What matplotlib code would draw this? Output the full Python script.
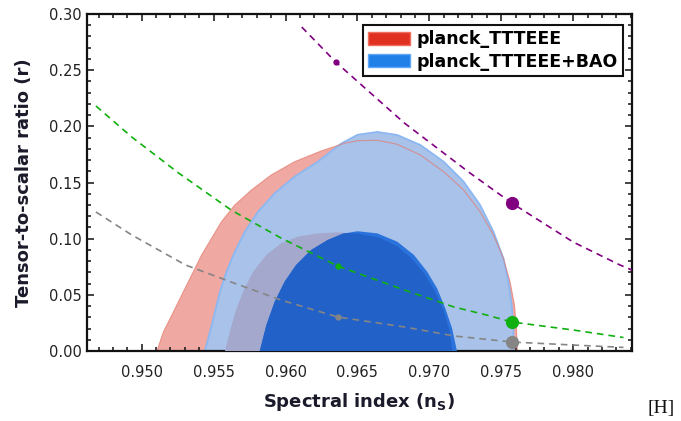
import numpy as np
import matplotlib
matplotlib.use('Agg')
import matplotlib.pyplot as plt
from matplotlib.patches import Patch, Polygon
from matplotlib.ticker import MultipleLocator, FormatStrFormatter

# ── Contour boundaries (ns, r) ───────────────────────────────────────────────
red_outer_ns = [0.95106, 0.95152, 0.95210, 0.95279, 0.95348, 0.95417, 0.95486, 0.95555,
                0.95648, 0.95763, 0.95901, 0.96063, 0.96247, 0.96409, 0.96501, 0.96639,
                0.96777, 0.96938, 0.97100, 0.97239, 0.97353, 0.97446, 0.97515, 0.97561,
                0.97592, 0.97606, 0.97612]
red_outer_r = [0.0, 0.0172, 0.0320, 0.0499, 0.0677, 0.0855, 0.1003, 0.1151,
               0.1300, 0.1433, 0.1567, 0.1685, 0.1780, 0.1849, 0.1872, 0.1876,
               0.1840, 0.1745, 0.1596, 0.1433, 0.1240, 0.1033, 0.0825, 0.0617,
               0.0409, 0.0202, 0.0]

blue_outer_ns = [0.95440, 0.95475, 0.95510, 0.95544, 0.95590, 0.95648, 0.95717, 0.95809,
                 0.95925, 0.96063, 0.96224, 0.96385, 0.96501, 0.96639, 0.96777, 0.96938,
                 0.97100, 0.97239, 0.97353, 0.97446, 0.97515, 0.97550, 0.97573, 0.97584,
                 0.97586]
blue_outer_r = [0.0, 0.0172, 0.0350, 0.0528, 0.0706, 0.0884, 0.1062, 0.1240,
                0.1404, 0.1552, 0.1685, 0.1845, 0.1925, 0.1950, 0.1923, 0.1834,
                0.1685, 0.1507, 0.1300, 0.1062, 0.0825, 0.0617, 0.0409, 0.0202,
                0.0]

red_inner_ns = [0.95579, 0.95613, 0.95652, 0.95705, 0.95775, 0.95867, 0.95970, 0.96086,
                0.96224, 0.96362, 0.96500, 0.96650, 0.96780, 0.96880, 0.96970, 0.97040,
                0.97100, 0.97140, 0.97160]
red_inner_r = [0.0, 0.0172, 0.0350, 0.0528, 0.0706, 0.0855, 0.0959, 0.1018,
               0.1047, 0.1056, 0.1045, 0.1010, 0.0930, 0.0820, 0.0680, 0.0530,
               0.0360, 0.0180, 0.0]

blue_inner_ns = [0.95821, 0.95867, 0.95925, 0.95994, 0.96074, 0.96178, 0.96293, 0.96400,
                 0.96501, 0.96639, 0.96777, 0.96893, 0.96985, 0.97054, 0.97111, 0.97158,
                 0.97192]
blue_inner_r = [0.0, 0.0231, 0.0439, 0.0617, 0.0766, 0.0899, 0.0988, 0.1045,
                0.1066, 0.1047, 0.0973, 0.0855, 0.0706, 0.0558, 0.0380, 0.0202,
                0.0]

# ── Model predictions (dashed curves + points) ───────────────────────────────
purple_ns = [0.96113, 0.96349, 0.96591, 0.96826, 0.97054, 0.97282, 0.97573, 0.98000, 0.98325, 0.98410]
purple_r = [0.2884, 0.2573, 0.2297, 0.2030, 0.1807, 0.1585, 0.1317, 0.0970, 0.0766, 0.0720]
purple_pts_ns = [0.96349, 0.97573]
purple_pts_r = [0.2573, 0.1317]

green_ns = [0.94682, 0.94931, 0.95256, 0.95622, 0.95968, 0.96362, 0.96826, 0.97171, 0.97399,
            0.97573, 0.98000, 0.98276, 0.98350]
green_r = [0.2181, 0.1905, 0.1585, 0.1255, 0.1006, 0.0757, 0.0543, 0.0392, 0.0320,
           0.0258, 0.0187, 0.0134, 0.0120]
green_pts_ns = [0.96362, 0.97573]
green_pts_r = [0.0757, 0.0258]

gray_ns = [0.94682, 0.94931, 0.95304, 0.95622, 0.95968, 0.96362, 0.96826, 0.97171, 0.97573,
           0.98000, 0.98278, 0.98350]
gray_r = [0.1237, 0.1033, 0.0766, 0.0614, 0.0454, 0.0303, 0.0214, 0.0134, 0.0080,
          0.0053, 0.0036, 0.0032]
gray_pts_ns = [0.96362, 0.97573]
gray_pts_r = [0.0303, 0.0080]

legend_labels = ["planck_TTTEEE", "planck_TTTEEE+BAO"]

# ── Figure ───────────────────────────────────────────────────────────────────
fig = plt.figure(figsize=(6.81, 4.21), dpi=100)
ax = fig.add_axes([0.1278, 0.1663, 0.8004, 0.8004])

ax.fill(red_outer_ns, red_outer_r, color="#f0a8a2", lw=0, zorder=1)
ax.fill(blue_outer_ns, blue_outer_r, color="#a8c2ea", lw=0, zorder=2)
ax.plot(blue_outer_ns, blue_outer_r, color="#8cb8f2", lw=1.3, zorder=2.1)
ax.plot(red_outer_ns, red_outer_r, color="#e47a6e", lw=0.8, alpha=0.7, zorder=2.2)
ax.fill(red_inner_ns, red_inner_r, color="#a4a8cc", lw=0, zorder=3)

# inner BAO region: brighter where it sits on the light contour, darker over the red 68% region
blue_in = Polygon(np.column_stack([blue_inner_ns, blue_inner_r]), closed=True,
                  facecolor="#2a72dc", lw=0, zorder=4)
ax.add_patch(blue_in)
overlap = Polygon(np.column_stack([red_inner_ns, red_inner_r]), closed=True,
                  facecolor="#2262c8", lw=0, zorder=4.1)
ax.add_patch(overlap)
overlap.set_clip_path(blue_in)

dash = (0, (4, 3))
for ns, r, pns, pr, c in [(purple_ns, purple_r, purple_pts_ns, purple_pts_r, "#800080"),
                          (green_ns, green_r, green_pts_ns, green_pts_r, "#10b010"),
                          (gray_ns, gray_r, gray_pts_ns, gray_pts_r, "#858585")]:
    ax.plot(ns, r, color=c, lw=1.2, linestyle=dash, zorder=5)
    ax.plot(pns[0], pr[0], "o", color=c, ms=4.5, mew=0, zorder=6)
    ax.plot(pns[1], pr[1], "o", color=c, ms=9.5, mew=0, zorder=6)

ax.set_xlim(0.9462, 0.9841)
ax.set_ylim(0.0, 0.30)
ax.xaxis.set_major_locator(MultipleLocator(0.005))
ax.xaxis.set_minor_locator(MultipleLocator(0.001))
ax.yaxis.set_major_locator(MultipleLocator(0.05))
ax.yaxis.set_minor_locator(MultipleLocator(0.01))
ax.xaxis.set_major_formatter(FormatStrFormatter("%.3f"))
ax.yaxis.set_major_formatter(FormatStrFormatter("%.2f"))
ax.tick_params(which="both", direction="in", top=True, right=True, width=1.2, colors="#222222")
ax.tick_params(which="major", length=5)
ax.tick_params(which="minor", length=3)
ax.tick_params(axis="x", which="major", pad=10, labelsize=10.5)
ax.tick_params(axis="y", which="major", pad=4, labelsize=10.5)
for s in ax.spines.values():
    s.set_linewidth(1.6)
    s.set_color("#111111")

lab_font = dict(family="DejaVu Sans", weight="bold", size=13, color="#1a1a2a")
ax.set_ylabel("Tensor-to-scalar ratio (r)", labelpad=11, **lab_font)
ax.set_xlabel(r"Spectral index (n$_\mathbf{S}$)", labelpad=8, **lab_font)

handles = [Patch(facecolor="#e03020", edgecolor="#f07060"),
           Patch(facecolor="#2080e8", edgecolor="#60a8f8")]
leg = ax.legend(handles, legend_labels, loc="upper right", bbox_to_anchor=(0.984, 0.967),
                prop=dict(family="DejaVu Sans", weight="bold", size=12.5),
                frameon=True, fancybox=False, edgecolor="#111111", framealpha=1,
                handlelength=2.4, handleheight=0.8, handletextpad=0.4, borderpad=0.3,
                labelspacing=0.25, borderaxespad=0)
leg.get_frame().set_linewidth(1.5)
leg.set_zorder(10)

fig.text(0.951, 0.018, "[H]", family="Liberation Serif", size=14, color="#111111")

fig.savefig("out.png", dpi=100)
